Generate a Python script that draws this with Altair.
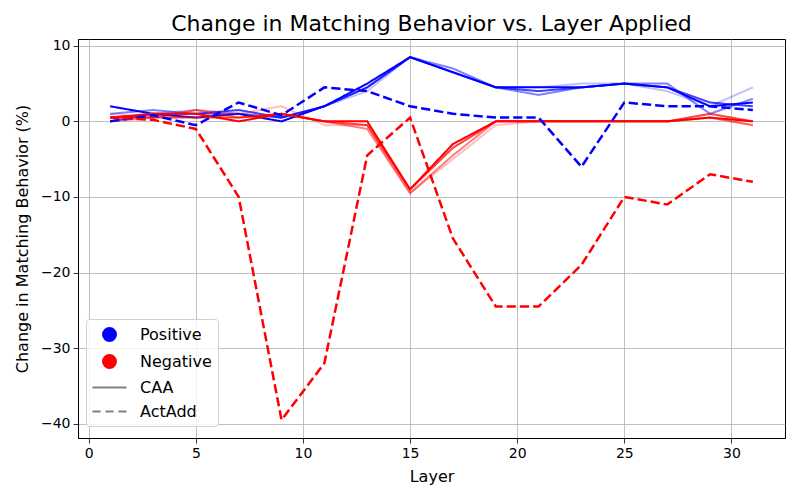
import altair as alt
import pandas as pd

layers = list(range(1, 32, 2))

# CAA runs (several, drawn with decreasing opacity)
caa_pos = [
    [2.0, 1.0, 0.5, 1.0, 0.0, 2.0, 5.0, 8.5, 6.5, 4.5, 4.5, 4.5, 5.0, 4.5, 2.0, 2.5],
    [0.0, 1.0, 1.0, 1.5, 0.5, 2.0, 4.5, 8.5, 6.5, 4.5, 4.0, 4.5, 5.0, 4.5, 2.5, 2.0],
    [1.0, 1.5, 1.0, 1.0, 0.5, 2.0, 4.5, 8.5, 7.0, 4.5, 3.5, 4.5, 5.0, 5.0, 1.0, 3.0],
    [0.5, 1.0, 1.5, 1.0, 0.5, 2.0, 4.0, 8.5, 6.5, 4.5, 4.5, 5.0, 5.0, 4.0, 2.0, 4.5],
]
caa_neg = [
    [0.5, 1.0, 1.0, 0.0, 1.0, 0.0, 0.0, -9.0, -3.0, 0.0, 0.0, 0.0, 0.0, 0.0, 0.5, 0.0],
    [0.5, 0.5, 0.5, 0.5, 1.0, 0.0, -0.5, -9.0, -3.5, 0.0, 0.0, 0.0, 0.0, 0.0, 1.0, 0.0],
    [0.0, 0.5, 1.5, 0.5, 1.0, 0.0, -1.0, -9.5, -4.5, 0.0, 0.0, 0.0, 0.0, 0.0, 0.5, -0.5],
    [1.0, 0.5, 1.5, 1.0, 2.0, -0.5, -0.5, -9.5, -5.0, -0.5, 0.0, 0.0, 0.0, 0.0, 0.5, -0.5],
]
caa_alpha = [1.0, 0.75, 0.5, 0.25]

actadd_pos = [0.0, 0.8, -0.5, 2.5, 0.8, 4.5, 4.0, 2.0, 1.0, 0.5, 0.5, -6.0, 2.5, 2.0, 2.0, 1.5]
actadd_neg = [0.5, 0.2, -1.0, -10.0, -39.5, -32.0, -4.5, 0.5, -15.5, -24.5, -24.5, -19.0, -10.0, -11.0, -7.0, -8.0]

legend_keys = ["Positive", "Negative", "CAA", "ActAdd"]

rows = []
for runs, grp in [(caa_pos, "Positive"), (caa_neg, "Negative")]:
    for j, vals in enumerate(runs):
        for l, v in zip(layers, vals):
            rows.append(dict(layer=l, value=v, group=grp, method="CAA",
                             run=f"{grp}-CAA-{j}", alpha=caa_alpha[j], order=j,
                             width=2.0))
for vals, grp in [(actadd_pos, "Positive"), (actadd_neg, "Negative")]:
    for l, v in zip(layers, vals):
        rows.append(dict(layer=l, value=v, group=grp, method="ActAdd",
                         run=f"{grp}-ActAdd", alpha=1.0, order=9, width=2.5))
df = pd.DataFrame(rows)

x_enc = alt.X("layer:Q",
              scale=alt.Scale(domain=[-0.5, 32.5], nice=False, zero=False),
              axis=alt.Axis(values=[0, 5, 10, 15, 20, 25, 30], title="Layer"))
y_enc = alt.Y("value:Q",
              scale=alt.Scale(domain=[-41.9, 10.9], nice=False, zero=False),
              axis=alt.Axis(values=[-40, -30, -20, -10, 0, 10],
                            title="Change in Matching Behavior (%)"))

lines = alt.Chart(df).mark_line().encode(
    x=x_enc,
    y=y_enc,
    color=alt.Color("group:N",
                    scale=alt.Scale(domain=["Positive", "Negative"], range=["blue", "red"]),
                    legend=None),
    strokeDash=alt.StrokeDash("method:N",
                              scale=alt.Scale(domain=["CAA", "ActAdd"],
                                              range=[[1, 0], [9.25, 4]]),
                              legend=None),
    strokeWidth=alt.StrokeWidth("width:Q", scale=None, legend=None),
    opacity=alt.Opacity("alpha:Q", scale=None, legend=None),
    detail="run:N",
    order=alt.Order("order:Q"),
)

circle_path = "M-0.76,0A0.76,0.76,0,1,0,0.76,0A0.76,0.76,0,1,0,-0.76,0Z"
solid_path = "M-2,0H2"
dash_path = "M-2,0H-1.05M-0.47,0H0.47M1.05,0H2"

legend = alt.Legend(
    title=None,
    orient="none",
    legendX=8,
    legendY=280,
    symbolSize=289,
    symbolStrokeWidth=2,
    symbolOpacity=1,
    symbolOffset=8,
    labelFontSize=16,
    labelFont="DejaVu Sans",
    labelColor="black",
    labelOffset=21,
    fillColor="rgba(255,255,255,0.8)",
    strokeColor="#d0d0d0",
    cornerRadius=3,
)

legend_layer = alt.Chart(df).transform_filter("false").mark_point(
    size=289, strokeWidth=2, opacity=1, filled=True
).encode(
    x=x_enc,
    y=y_enc,
    fill=alt.Fill("group:N",
                  scale=alt.Scale(domain=legend_keys,
                                  range=["blue", "red", "gray", "gray"]),
                  legend=legend),
    stroke=alt.Stroke("group:N",
                      scale=alt.Scale(domain=legend_keys,
                                      range=["blue", "red", "gray", "gray"]),
                      legend=legend),
    shape=alt.Shape("group:N",
                    scale=alt.Scale(domain=legend_keys,
                                    range=[circle_path, circle_path, solid_path, dash_path]),
                    legend=legend),
)

chart = alt.layer(lines, legend_layer).properties(
    width=707,
    height=399,
    title=alt.TitleParams("Change in Matching Behavior vs. Layer Applied",
                          fontSize=22, fontWeight="normal", font="DejaVu Sans",
                          color="black", offset=3),
    autosize=alt.AutoSizeParams(type="none"),
    padding={"left": 70, "top": 31, "right": 5, "bottom": 50},
).configure_view(
    stroke="black", strokeWidth=1
).configure_legend(
    rowPadding=6, padding=6,
    fillColor="rgba(255,255,255,0.8)", strokeColor="#d0d0d0", cornerRadius=3,
).configure_axis(
    labelFont="DejaVu Sans", labelFontSize=14, labelColor="black",
    titleFont="DejaVu Sans", titleFontSize=16, titleFontWeight="normal", titleColor="black",
    grid=True, gridColor="#b0b0b0", gridWidth=0.8,
    domainColor="black", domainWidth=1,
    tickColor="black", tickSize=5, tickWidth=0.8,
    labelPadding=3,
).configure_axisX(titlePadding=8).configure_axisY(titlePadding=10)

chart.save("out.html", embed_options={"renderer": "svg", "actions": False})
